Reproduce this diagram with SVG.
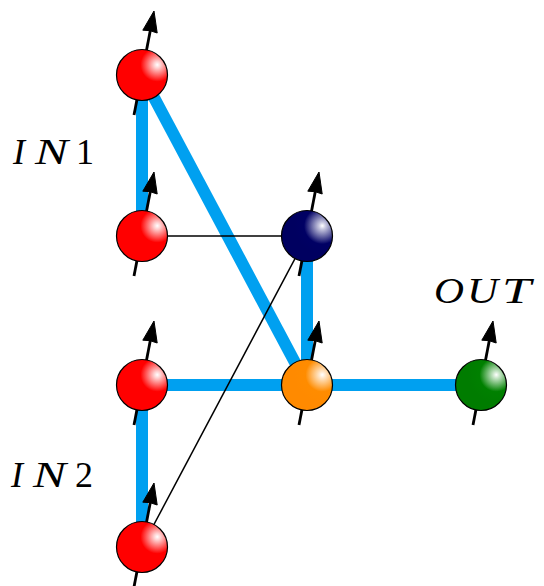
<svg xmlns="http://www.w3.org/2000/svg" xmlns:xlink="http://www.w3.org/1999/xlink" width="544" height="586" viewBox="0 0 544 586">
<style>
.thick{stroke:#00a0f0;stroke-width:12;fill:none}
.thin{stroke:#000;stroke-width:1.5;fill:none}
.ball{stroke:#000;stroke-width:1.2}
.lbl{font-family:"Liberation Serif","Times New Roman",serif;font-size:36px;fill:#000}
.it{font-style:italic}
</style>
<defs>
<radialGradient id="gRed" cx="0.8" cy="0.3" r="0.55"><stop offset="0" stop-color="#fff"/><stop offset="0.12" stop-color="#ffd0d0"/><stop offset="0.6" stop-color="#f00"/><stop offset="1" stop-color="#f00"/></radialGradient>
<radialGradient id="gNavy" cx="0.8" cy="0.3" r="0.55"><stop offset="0" stop-color="#fff"/><stop offset="0.12" stop-color="#c8c8e0"/><stop offset="0.65" stop-color="#000064"/><stop offset="1" stop-color="#000060"/></radialGradient>
<radialGradient id="gOrange" cx="0.8" cy="0.3" r="0.55"><stop offset="0" stop-color="#fff"/><stop offset="0.12" stop-color="#ffe6c8"/><stop offset="0.6" stop-color="#ff8c00"/><stop offset="1" stop-color="#ff8a00"/></radialGradient>
<radialGradient id="gGreen" cx="0.8" cy="0.3" r="0.55"><stop offset="0" stop-color="#fff"/><stop offset="0.12" stop-color="#c8e6c8"/><stop offset="0.6" stop-color="#008000"/><stop offset="1" stop-color="#007c00"/></radialGradient>
<g id="spin">
<line x1="-8" y1="40" x2="8.4" y2="-45" stroke="#000" stroke-width="2.8"/>
<path d="M12,-64 L15.2,-42 Q8.4,-45.2 0.8,-44.8 Z" fill="#000" stroke="#000" stroke-width="1" stroke-linejoin="round"/>
</g>
</defs>
<rect width="544" height="586" fill="#fff"/>
<g id="connectors">
<line class="thick" x1="142" y1="75" x2="142" y2="236"/>
<line class="thick" x1="142" y1="75" x2="307" y2="385"/>
<line class="thick" x1="307" y1="236" x2="307" y2="385"/>
<line class="thick" x1="142" y1="385" x2="481" y2="385"/>
<line class="thick" x1="142" y1="385" x2="142" y2="547"/>
<line class="thin" x1="142" y1="236" x2="307" y2="236"/>
<line class="thin" x1="142" y1="547" x2="307" y2="236"/>
</g>
<g id="r1"><use xlink:href="#spin" x="142" y="75"/><circle class="ball" cx="142" cy="75" r="25.5" fill="url(#gRed)"/></g>
<g id="r2"><use xlink:href="#spin" x="142" y="236"/><circle class="ball" cx="142" cy="236" r="25.5" fill="url(#gRed)"/></g>
<g id="navy"><use xlink:href="#spin" x="307" y="236"/><circle class="ball" cx="307" cy="236" r="25.5" fill="url(#gNavy)"/></g>
<g id="r3"><use xlink:href="#spin" x="142" y="385"/><circle class="ball" cx="142" cy="385" r="25.5" fill="url(#gRed)"/></g>
<g id="orange"><use xlink:href="#spin" x="307" y="385"/><circle class="ball" cx="307" cy="385" r="25.5" fill="url(#gOrange)"/></g>
<g id="green"><use xlink:href="#spin" x="481" y="385"/><circle class="ball" cx="481" cy="385" r="25.5" fill="url(#gGreen)"/></g>
<g id="r4"><use xlink:href="#spin" x="142" y="547"/><circle class="ball" cx="142" cy="547" r="25.5" fill="url(#gRed)"/></g>
<g id="labels">
<text class="lbl" y="164"><tspan class="it" x="13">I</tspan><tspan class="it" x="35" textLength="33" lengthAdjust="spacingAndGlyphs">N</tspan><tspan x="76">1</tspan></text>
<text class="lbl" y="487"><tspan class="it" x="11">I</tspan><tspan class="it" x="33" textLength="33" lengthAdjust="spacingAndGlyphs">N</tspan><tspan x="75">2</tspan></text>
<text class="lbl" y="303"><tspan class="it" x="434" textLength="30" lengthAdjust="spacingAndGlyphs">O</tspan><tspan class="it" x="467" textLength="31" lengthAdjust="spacingAndGlyphs">U</tspan><tspan class="it" x="502" textLength="29" lengthAdjust="spacingAndGlyphs">T</tspan></text>
</g>
</svg>
